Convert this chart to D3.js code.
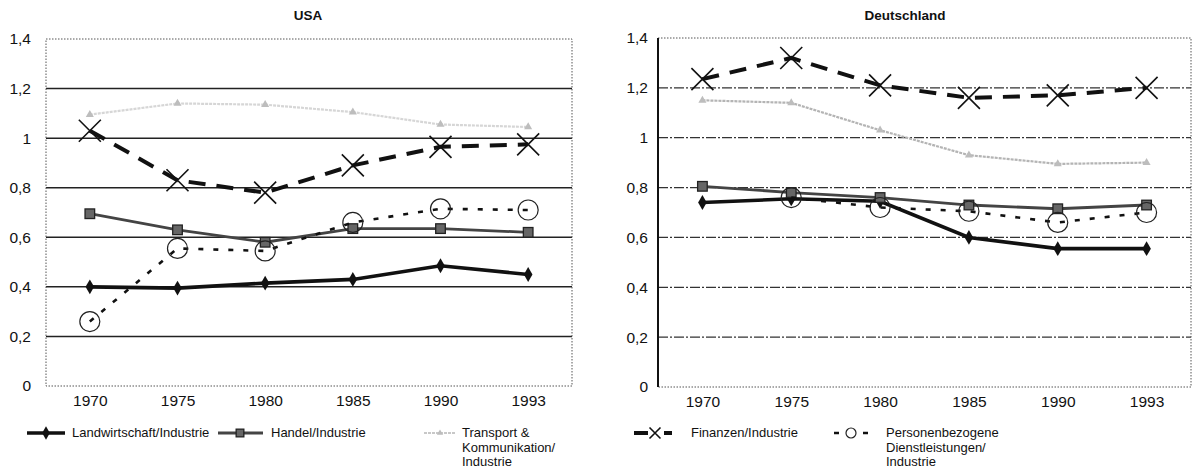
<!DOCTYPE html>
<html>
<head>
<meta charset="utf-8">
<script src="https://cdn.jsdelivr.net/npm/d3@7"></script>
<style>
  body { margin: 0; background: #fff; }
  text { font-family: "Liberation Sans", Arial, sans-serif; fill: #111; }
</style>
</head>
<body>
<svg id="chart" width="1197" height="472"></svg>
<script>
// categories
const years = ["1970", "1975", "1980", "1985", "1990", "1993"];
const yTicks = [0, 0.2, 0.4, 0.6, 0.8, 1, 1.2, 1.4];

// USA
const landUSA = [0.40, 0.395, 0.415, 0.43, 0.485, 0.45];
const handelUSA = [0.695, 0.63, 0.58, 0.635, 0.635, 0.62];
const transportUSA = [1.095, 1.14, 1.135, 1.105, 1.055, 1.045];
const finanzUSA = [1.03, 0.83, 0.78, 0.89, 0.965, 0.975];
const personUSA = [0.26, 0.555, 0.545, 0.66, 0.715, 0.71];

// Deutschland
const landDE = [0.74, 0.755, 0.745, 0.60, 0.555, 0.555];
const handelDE = [0.805, 0.78, 0.76, 0.73, 0.715, 0.73];
const transportDE = [1.15, 1.14, 1.03, 0.93, 0.895, 0.9];
const finanzDE = [1.235, 1.32, 1.21, 1.16, 1.17, 1.2];
const personDE = [null, 0.76, 0.72, 0.705, 0.66, 0.70];

const seriesNames = [
  "Landwirtschaft/Industrie",
  "Handel/Industrie",
  "Transport & Kommunikation/ Industrie",
  "Finanzen/Industrie",
  "Personenbezogene Dienstleistungen/ Industrie"
];

const styles = [
  { stroke: "#111", width: 3.6, dash: null, marker: "diamond" },
  { stroke: "#444", width: 2.8, dash: null, marker: "square" },
  { stroke: "#cfcfcf", width: 2.2, dash: "3,1", marker: "triangle" },
  { stroke: "#111", width: 4, dash: "17,11", marker: "x" },
  { stroke: "#111", width: 2.6, dash: "5,10", marker: "circle" }
];

const svg = d3.select("#chart");

function drawMarker(g, type, x, y, k = 1) {
  if (type === "diamond") {
    g.append("path").attr("d", d3.symbol(d3.symbolDiamond, 64 * k)())
      .attr("transform", `translate(${x},${y})`).attr("fill", "#111");
  } else if (type === "square") {
    const s = 4.8 * k;
    g.append("rect").attr("x", x - s).attr("y", y - s)
      .attr("width", 2 * s).attr("height", 2 * s)
      .attr("fill", "#666").attr("stroke", "#222").attr("stroke-width", 1.3);
  } else if (type === "triangle") {
    g.append("path").attr("d", d3.symbol(d3.symbolTriangle, 28 * k)())
      .attr("transform", `translate(${x},${y})`).attr("fill", "#bdbdbd");
  } else if (type === "x") {
    const s = 11 * k;
    g.append("path")
      .attr("d", `M${x - s},${y - s}L${x + s},${y + s}M${x - s},${y + s}L${x + s},${y - s}`)
      .attr("stroke", "#111").attr("stroke-width", 1.6).attr("fill", "none");
  } else if (type === "circle") {
    g.append("circle").attr("cx", x).attr("cy", y).attr("r", 10 * k)
      .attr("fill", "none").attr("stroke", "#222").attr("stroke-width", 1.2);
  }
}

function drawPanel(cfg) {
  const g = svg.append("g");
  const x = d3.scalePoint().domain(years).range([cfg.left, cfg.right]).padding(0.5);
  const y = d3.scaleLinear().domain([0, 1.4]).range([cfg.bottom, cfg.top]);

  // grid
  g.selectAll("line.grid")
    .data(yTicks.filter(t => t > 0 && t < 1.4))
    .join("line")
    .attr("x1", cfg.left).attr("x2", cfg.right)
    .attr("y1", d => y(d)).attr("y2", d => y(d))
    .attr("stroke", cfg.gridColor).attr("stroke-width", cfg.gridWidth)
    .attr("stroke-dasharray", cfg.gridDash);

  // dotted frame
  g.append("rect")
    .attr("x", cfg.left).attr("y", cfg.top)
    .attr("width", cfg.right - cfg.left).attr("height", cfg.bottom - cfg.top)
    .attr("fill", "none").attr("stroke", "#555").attr("stroke-width", 1)
    .attr("stroke-dasharray", "1.5,1.5");
  if (cfg.solidAxis) {
    g.append("line").attr("x1", cfg.left).attr("x2", cfg.left)
      .attr("y1", cfg.top).attr("y2", cfg.bottom)
      .attr("stroke", "#111").attr("stroke-width", 2);
  }

  // y axis labels
  const yAxis = d3.axisLeft(y).tickValues(yTicks).tickSize(0)
    .tickFormat(d => d3.format(".1f")(d).replace(".", ",").replace(/^(\d),0$/, "$1"));
  g.append("g").attr("transform", `translate(${cfg.left - cfg.labelGap},0)`).call(yAxis)
    .call(a => a.select(".domain").remove())
    .selectAll("text").attr("font-size", 15.5).attr("fill", "#111");

  // x axis labels
  const xAxis = d3.axisBottom(x).tickSize(0);
  g.append("g").attr("transform", `translate(0,${cfg.bottom + 6})`).call(xAxis)
    .call(a => a.select(".domain").remove())
    .selectAll("text").attr("font-size", 15.5).attr("fill", "#111");

  // title
  g.append("text").attr("x", cfg.titleX).attr("y", 20)
    .attr("text-anchor", "middle").attr("font-size", 13.5).attr("font-weight", "bold")
    .text(cfg.title);

  // series
  cfg.series.forEach((vals, i) => {
    const st = styles[i];
    const pts = years.map((yr, j) => [yr, vals[j]]).filter(p => p[1] != null);
    const line = d3.line().x(p => x(p[0])).y(p => y(p[1]));
    g.append("path").datum(pts)
      .attr("d", line)
      .attr("fill", "none").attr("stroke", i === 2 ? cfg.transportColor : st.stroke)
      .attr("stroke-width", st.width)
      .attr("stroke-dasharray", st.dash);
    pts.forEach(p => drawMarker(g, st.marker, x(p[0]), y(p[1])));
  });
}

drawPanel({
  title: "USA", titleX: 308,
  left: 46, right: 572, top: 39, bottom: 386, labelGap: 12,
  gridColor: "#222", gridWidth: 1.5, gridDash: null, solidAxis: false,
  transportColor: "#d6d6d6",
  series: [landUSA, handelUSA, transportUSA, finanzUSA, personUSA]
});

drawPanel({
  title: "Deutschland", titleX: 905,
  left: 658, right: 1191, top: 38, bottom: 387, labelGap: 7,
  gridColor: "#333", gridWidth: 1.3, gridDash: "10,2,2,2", solidAxis: true,
  transportColor: "#b4b4b4",
  series: [landDE, handelDE, transportDE, finanzDE, personDE]
});

// legend
const legend = svg.append("g");
function legendEntry(i, x0, x1, mx, tx, ty, lines, dash, k) {
  const st = styles[i];
  legend.append("line").attr("x1", x0).attr("x2", x1).attr("y1", ty - 4).attr("y2", ty - 4)
    .attr("stroke", i === 2 ? "#c8c8c8" : st.stroke).attr("stroke-width", st.width)
    .attr("stroke-dasharray", dash);
  drawMarker(legend, st.marker, mx, ty - 4, k);
  const t = legend.append("text").attr("x", tx).attr("y", ty).attr("font-size", 13);
  lines.forEach((l, k2) => t.append("tspan").attr("x", tx).attr("dy", k2 === 0 ? 0 : 14.5).text(l));
}
legendEntry(0, 27, 65, 46, 72, 437, [seriesNames[0]], null, 0.8);
legendEntry(1, 218, 263, 240, 271, 437, [seriesNames[1]], null, 0.8);
legendEntry(2, 424, 456, 440, 462, 437, ["Transport &", "Kommunikation/", "Industrie"], "3,1", 0.6);
legendEntry(3, 634, 672, 655, 691, 437, [seriesNames[3]], "14,16", 0.5);
legendEntry(4, 834, 868, 851, 886, 437, ["Personenbezogene", "Dienstleistungen/", "Industrie"], "5,24", 0.5);
</script>
</body>
</html>
